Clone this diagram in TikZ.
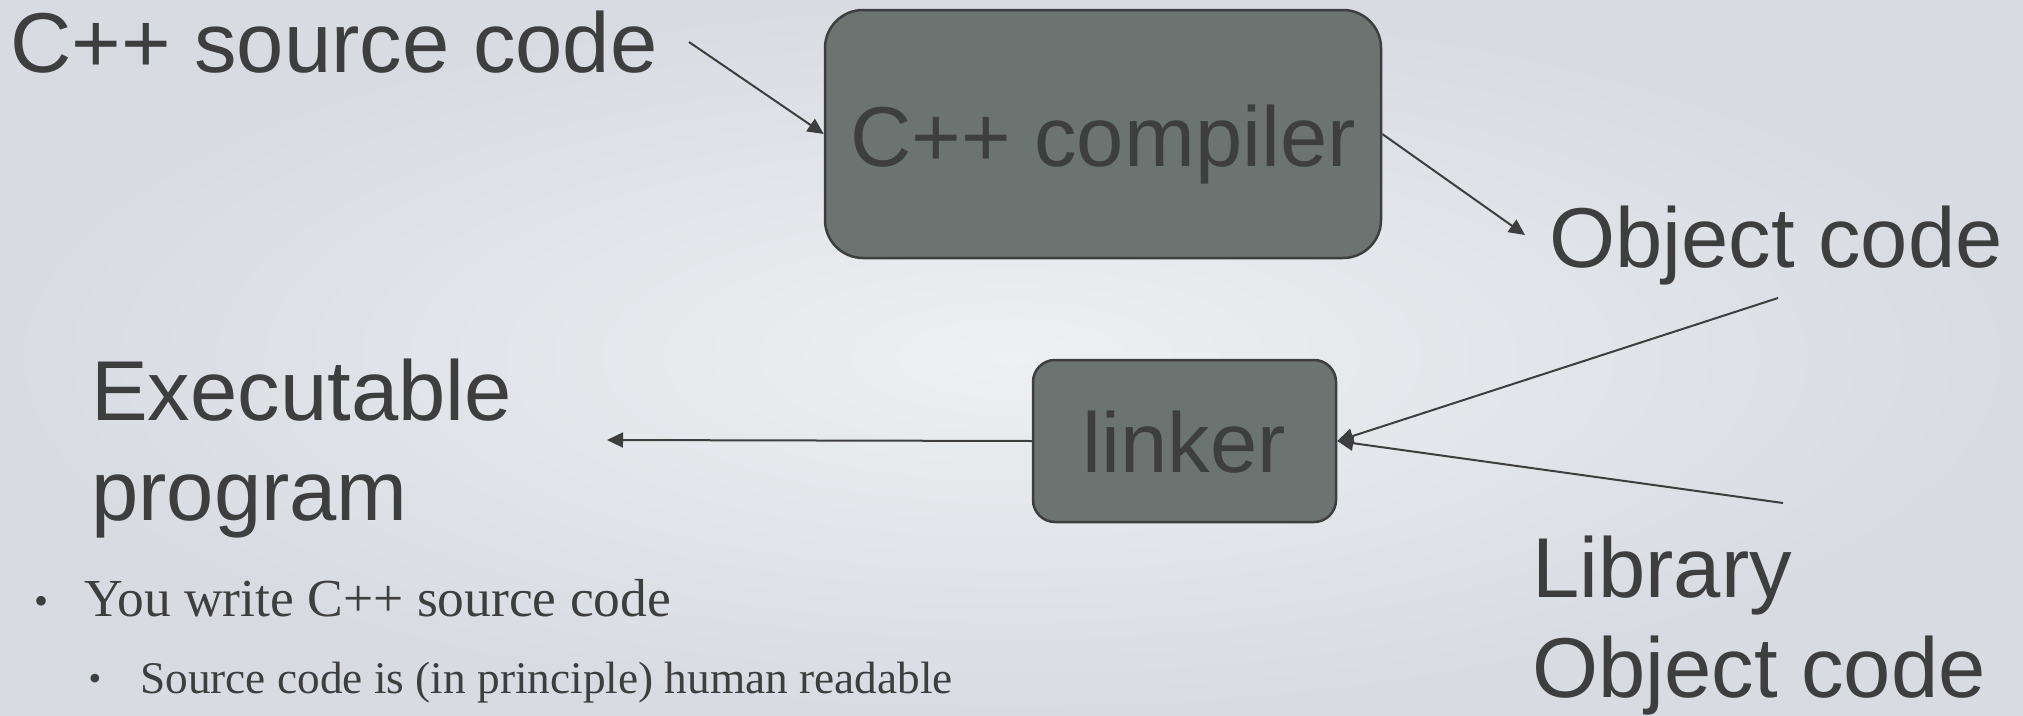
\documentclass[tikz,border=0pt]{standalone}
\usepackage{fontspec}
\setmainfont{Liberation Sans}
\newfontfamily\serifface{Liberation Serif}
\usetikzlibrary{arrows.meta}
\definecolor{ink}{HTML}{3E3E3E}
\definecolor{boxfill}{HTML}{6B7471}
\definecolor{bgin}{HTML}{EEF0F2}
\definecolor{bgout}{HTML}{D8DBE2}
\begin{document}
\begin{tikzpicture}[x=1pt,y=-1pt,
  lbl/.style={inner sep=0pt, text=ink, font=\fontsize{85}{100}\selectfont, anchor=base west},
  procbox/.style={draw=ink, fill=boxfill, line width=2.5pt, inner sep=0pt, text=ink, font=\fontsize{85}{100}\selectfont},
  arr/.style={draw=ink, line width=2pt, -{Triangle[length=16pt,width=15pt]}},
  bullettext/.style={inner sep=0pt, text=ink, anchor=base west},
  dot/.style={inner sep=0pt, text=ink, anchor=base}]
\path[use as bounding box, inner color=bgin, outer color=bgout] (0,0) rectangle (2023,715);
% process boxes
\node[procbox, rounded corners=38pt, minimum width=556pt, minimum height=248pt, text height=64pt, text depth=0pt] (comp) at (1103,134) {C++ compiler};
\node[procbox, rounded corners=22pt, minimum width=303pt, minimum height=162pt, text height=62pt, text depth=0pt] (link) at (1184.5,441) {linker};
% labels
\node[lbl] (src) at (10,72) {C++ source code};
\node[lbl] (obj) at (1549,267) {Object code};
\node[lbl, align=left] (exe) at (91,520) {Executable\\program};
\node[lbl, align=left] (lib) at (1532,697) {Library\\Object code};
% connector ends
\coordinate (srcend) at (689,42);
\coordinate (objin) at (1525,235);
\coordinate (objout) at (1778,298);
\coordinate (libout) at (1783,503);
\coordinate (exein) at (607,440);
% connectors
\draw[arr] (srcend) -- (comp.west);
\draw[arr] (comp.east) -- (objin);
\draw[arr] (objout) -- (link.east);
\draw[arr] (libout) -- (link.east);
\draw[arr] (link.west) -- (exein);
% bullets
\node[dot, font=\serifface\fontsize{40}{40}\selectfont] (d1) at (42,614) {•};
\node[bullettext, font=\serifface\fontsize{53.5}{60}\selectfont] (b1) at (84,616) {You write C++ source code};
\node[dot, font=\serifface\fontsize{36}{36}\selectfont] (d2) at (95,690) {•};
\node[bullettext, font=\serifface\fontsize{45.3}{54}\selectfont] (b2) at (140,693) {Source code is (in principle) human readable};
\end{tikzpicture}
\end{document}
